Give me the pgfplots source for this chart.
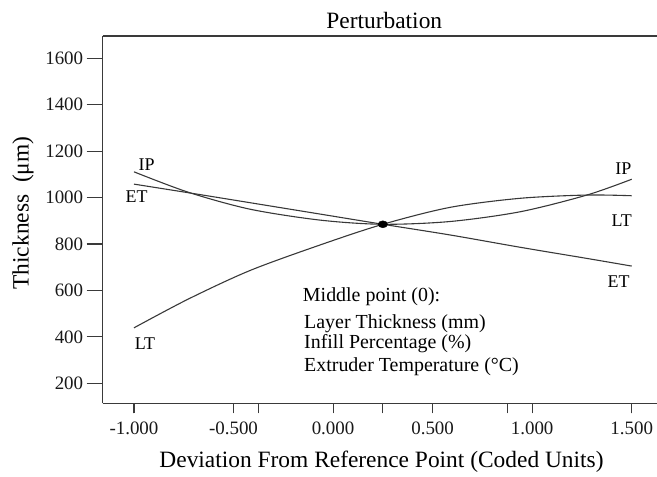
\documentclass[border=0pt]{standalone}
\usepackage{pgfplots}
\pgfplotsset{compat=1.18}
\usepackage{fontspec}
\setmainfont{Liberation Serif}
\definecolor{axisgray}{HTML}{3A3A3A}
\definecolor{curvegray}{HTML}{383838}
\begin{document}
\begin{tikzpicture}
\begin{axis}[
  scale only axis, width=554.3bp, height=367.3bp,
  xmin=-1.157, xmax=1.627, ymin=114, ymax=1696,
  axis x line=box, axis y line=left,
  axis line style={-, draw=axisgray, line width=1.1pt},
  tick align=outside, xtick pos=bottom, ytick pos=left,
  major tick length=16bp,
  xtick={-1,-0.375,0.25,0.875,1.5}, xticklabels={},
  xtick style={draw=axisgray, line width=1.1pt, /pgfplots/major tick length=10bp},
  ytick style={draw=axisgray, line width=1.1pt},
  extra x ticks={-1,-0.5,0,0.5,1,1.5},
  extra x tick labels={-1.000,-0.500,0.000,0.500,1.000,1.500},
  extra x tick style={major tick length=0pt, xticklabel style={yshift=-15bp}},
  ytick={200,400,600,800,1000,1200,1400,1600},
  yticklabels={200,400,600,800,1000,1200,1400,1600},
  /pgf/number format/assume math mode=true,
  ticklabel style={font=\fontsize{19}{19}\selectfont, text=black!90},
  every axis title shift=0pt,
  title={Perturbation},
  title style={at={(axis description cs:0.508,1.0417)}, anchor=center, font=\fontsize{23.5}{23.5}\selectfont},
  xlabel={Deviation From Reference Point (Coded Units)},
  xlabel style={at={(axis description cs:0.503,-0.159)}, anchor=center, font=\fontsize{23.5}{23.5}\selectfont},
  ylabel={Thickness\ \ (μm)},
  ylabel style={at={(axis description cs:-0.1438,0.518)}, anchor=center, font=\fontsize{23.5}{23.5}\selectfont},
  clip=false,
]
\addplot[smooth, curvegray, line width=1.1pt] coordinates {
  (-1,1111) (-0.727,1023) (-0.417,950) (-0.065,903) (0.25,885) (0.588,897) (0.94,939) (1.275,1011) (1.5,1079)};
\addplot[smooth, curvegray, line width=1.1pt] coordinates {
  (-1,1058) (-0.727,1021) (-0.417,978) (-0.065,929) (0.25,885) (0.588,839) (0.94,786) (1.275,738) (1.5,705)};
\addplot[smooth, curvegray, line width=1.1pt] coordinates {
  (-1,439) (-0.727,563) (-0.417,686) (-0.065,796) (0.25,885) (0.588,958) (0.94,997) (1.275,1011) (1.5,1008)};
\addplot[only marks, mark=*, mark size=3.5bp, mark options={xscale=1.35, fill=black, draw=black}] coordinates {(0.25,885)};
\tikzset{clab/.style={anchor=center, font=\fontsize{18}{18}\selectfont}}
\node[clab] at (axis cs:-0.937,1140) {IP};
\node[clab] at (axis cs:-0.987,1004) {ET};
\node[clab] at (axis cs:-0.945,372) {LT};
\node[clab] at (axis cs:1.458,1126) {IP};
\node[clab] at (axis cs:1.45,900) {LT};
\node[clab] at (axis cs:1.434,637) {ET};
\tikzset{tlab/.style={anchor=west, inner sep=0pt, font=\fontsize{20}{20}\selectfont}}
\node[tlab] at (axis cs:-0.152,573) {Middle point (0):};
\node[tlab] at (axis cs:-0.146,458) {Layer Thickness (mm)};
\node[tlab] at (axis cs:-0.146,369) {Infill Percentage (\%)};
\node[tlab] at (axis cs:-0.146,271) {Extruder Temperature (°C)};
\end{axis}
\pgfresetboundingbox
\path[use as bounding box] (current axis.south west) ++(-102.7bp,-73.7bp) rectangle ++(657bp,477bp);
\end{tikzpicture}
\end{document}
